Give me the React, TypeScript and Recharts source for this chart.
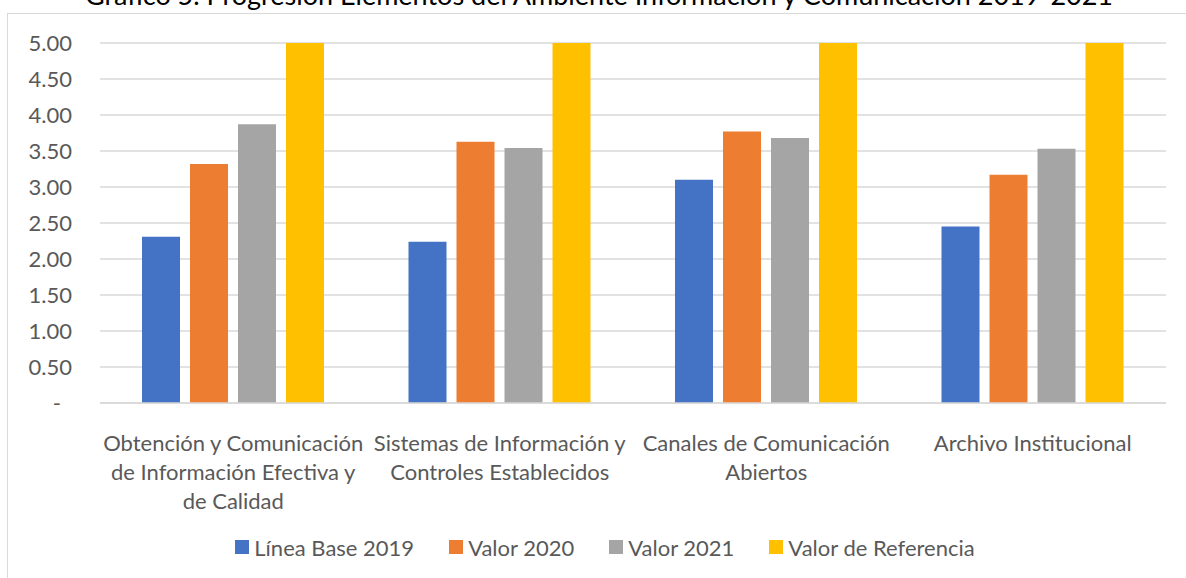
import { BarChart, Bar, XAxis, YAxis, CartesianGrid, Legend } from 'recharts';

// Gráfico 5 — progresión de elementos del ambiente Información y Comunicación
const categories = [
  'Obtención y Comunicación de Información Efectiva y de Calidad',
  'Sistemas de Información y Controles Establecidos',
  'Canales de Comunicación Abiertos',
  'Archivo Institucional',
];
// how each category label is broken into lines under the axis
const categoryLines = [
  ['Obtención y Comunicación', 'de Información Efectiva y', 'de Calidad'],
  ['Sistemas de Información y', 'Controles Establecidos'],
  ['Canales de Comunicación', 'Abiertos'],
  ['Archivo Institucional'],
];
const lineaBase2019 = [2.31, 2.24, 3.1, 2.45];
const valor2020 = [3.32, 3.63, 3.77, 3.17];
const valor2021 = [3.87, 3.54, 3.68, 3.53];
const valorReferencia = [5, 5, 5, 5];
const yTicks = [0, 0.5, 1, 1.5, 2, 2.5, 3, 3.5, 4, 4.5, 5];

const seriesNames = ['Línea Base 2019', 'Valor 2020', 'Valor 2021', 'Valor de Referencia'];
const seriesColors = ['#4472C4', '#ED7D31', '#A5A5A5', '#FFC000'];

const TITLE = 'Gráfico 5. Progresión Elementos del Ambiente Información y Comunicación 2019-2021';
const FONT = 'Lato, "Open Sans", sans-serif';
const TEXT = '#595959';
const GRID = '#D9D9D9';

const data = categories.map((c, i) => ({
  name: c,
  idx: i,
  s0: lineaBase2019[i],
  s1: valor2020[i],
  s2: valor2021[i],
  s3: valorReferencia[i],
}));

const YTick = (props: any) => {
  const { x, y, payload } = props;
  const v = payload.value as number;
  const label = v === 0 ? '-' : v.toFixed(2);
  return (
    <text x={v === 0 ? x - 11 : x} y={y} dy="0.35em" textAnchor="end"
      fill={TEXT} fontSize={22} fontFamily={FONT}>
      {label}
    </text>
  );
};

const XTick = (props: any) => {
  const { x, y, index } = props;
  const lines = categoryLines[index] || [];
  return (
    <text x={x} y={y} textAnchor="middle" fill={TEXT} fontSize={22} fontFamily={FONT}>
      {lines.map((l, i) => (
        <tspan key={i} x={x} y={y + 32 + i * 29} dy="0.35em">{l}</tspan>
      ))}
    </text>
  );
};

const LegendRow = () => (
  <div style={{
    display: 'flex', justifyContent: 'center', alignItems: 'center', gap: 35,
    height: 24, fontFamily: FONT, fontSize: 22, color: TEXT, whiteSpace: 'nowrap',
  }}>
    {seriesNames.map((n, i) => (
      <div key={n} style={{ display: 'flex', alignItems: 'center' }}>
        <span style={{ width: 14, height: 14, background: seriesColors[i], marginRight: 5, display: 'inline-block' }} />
        <span>{n}</span>
      </div>
    ))}
  </div>
);

export default function App() {
  const W = 1194;
  const H = 564;
  return (
    <div style={{ position: 'absolute', left: 0, top: 0, width: 1186, height: 578, overflow: 'hidden', background: '#fff' }}>
      {/* the caption sits above the chart frame and is clipped by the page top, as in the source */}
      <svg width={1186} height={14} style={{ position: 'absolute', left: 0, top: 0 }}>
        <text x={599} y={5} textAnchor="middle" fontFamily={FONT} fontSize={27} fill="#000">
          {TITLE}
        </text>
      </svg>
      <div style={{
        position: 'absolute', left: 7, top: 13, width: W, height: H + 10,
        border: `1px solid ${GRID}`, background: 'transparent',
      }}>
        <BarChart width={W} height={H} data={data} barSize={38} barGap={10}
          margin={{ top: 29, right: 36, bottom: 19, left: 0 }}>
          <CartesianGrid vertical={false} stroke={GRID} strokeWidth={1.5} />
          <XAxis dataKey="name" height={132} interval={0} tickLine={false}
            axisLine={{ stroke: GRID, strokeWidth: 1.5 }} tick={<XTick />} />
          <YAxis width={92} domain={[0, 5]} ticks={yTicks} axisLine={false} tickLine={false}
            tickSize={0} tickMargin={28} tick={<YTick />} />
          <Legend verticalAlign="bottom" content={<LegendRow />} wrapperStyle={{ left: 0, width: W }} />
          {seriesNames.map((n, i) => (
            <Bar key={n} dataKey={`s${i}`} name={n} fill={seriesColors[i]} isAnimationActive={false} />
          ))}
        </BarChart>
      </div>
    </div>
  );
}
